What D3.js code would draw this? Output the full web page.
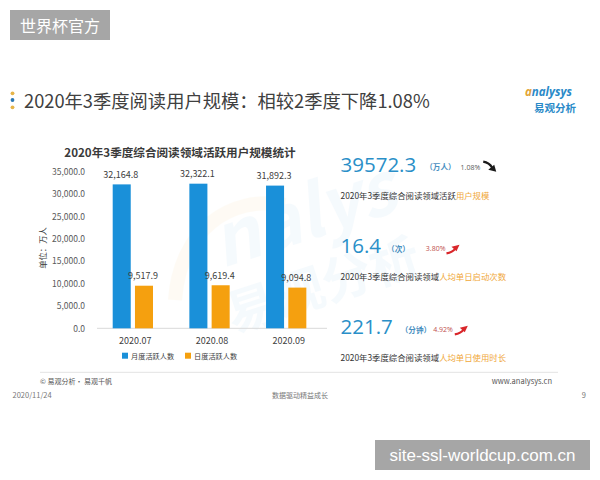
<!DOCTYPE html>
<html>
<head>
<meta charset="utf-8">
<script src="https://cdn.jsdelivr.net/npm/d3@7"></script>
<style>
html,body{margin:0;padding:0;background:#fff;}
svg{display:block;font-family:"Noto Sans CJK SC","Noto Sans",sans-serif;}
</style>
</head>
<body>
<svg id="chart" width="600" height="480"></svg>
<script>
// ---- data ----
const categories = ["2020.07", "2020.08", "2020.09"];
const seriesNames = ["月度活跃人数", "日度活跃人数"];
const monthlyActive = [32164.8, 32322.1, 31892.3];
const dailyActive = [9517.9, 9619.4, 9094.8];
const yTicks = [0, 5000, 10000, 15000, 20000, 25000, 30000, 35000];

const kpiValues = ["39572.3", "16.4", "221.7"];
const kpiUnits = ["（万人）", "（次）", "（分钟）"];
const kpiChanges = ["1.08%", "3.80%", "4.92%"];
const kpiDirections = ["down", "up", "up"];
const kpiDescPlain = ["2020年3季度综合阅读领域活跃", "2020年3季度综合阅读领域", "2020年3季度综合阅读领域"];
const kpiDescHighlight = ["用户规模", "人均单日启动次数", "人均单日使用时长"];

const pageTitle = "2020年3季度阅读用户规模：相较2季度下降1.08%";
const chartTitle = "2020年3季度综合阅读领域活跃用户规模统计";
const yAxisTitle = "单位：万人";

// ---- setup ----
const svg = d3.select("#chart");
const colors = {blue: "#1a90d9", orange: "#f5a00f"};
svg.append("rect").attr("width", 600).attr("height", 480).attr("fill", "#fff");

// top-left badge
svg.append("rect").attr("x", 10).attr("y", 10).attr("width", 100).attr("height", 30).attr("fill", "#a6a6a6");
svg.append("text").attr("x", 60).attr("y", 31.5).attr("text-anchor", "middle")
  .attr("font-size", 16).attr("fill", "#fff").text("世界杯官方");

// page title with dots
[[93.3, "#e6b449"], [100, "#2b78b5"], [107.3, "#e6b449"]].forEach(d => {
  svg.append("circle").attr("cx", 12.5).attr("cy", d[0]).attr("r", 1.9).attr("fill", d[1]);
});
svg.append("text").attr("x", 24).attr("y", 107.5).attr("font-size", 18.3).attr("fill", "#404040").text(pageTitle);

// logo
const logo = svg.append("text").attr("x", 525).attr("y", 96).attr("font-size", 11.5)
  .attr("font-style", "italic").attr("font-weight", "bold").attr("font-family", "Open Sans, sans-serif");
logo.append("tspan").attr("fill", "#e3a436").text("a");
logo.append("tspan").attr("fill", "#2a8ac8").text("nalysys");
svg.append("text").attr("x", 534).attr("y", 112).attr("font-size", 10.5).attr("font-weight", "bold")
  .attr("fill", "#2a8ac8").text("易观分析");

// faint watermark in chart
const wm = svg.append("g").attr("opacity", 0.04);
wm.append("path").attr("d", "M175,300 C180,230 230,195 285,205").attr("fill", "none")
  .attr("stroke", "#f5a00f").attr("stroke-width", 14);
wm.append("text").attr("x", 215).attr("y", 255).attr("font-size", 72).attr("font-weight", "bold")
  .attr("font-style", "italic").attr("fill", "#1a90d9").attr("transform", "rotate(-18,260,240)").text("nalys");
wm.append("text").attr("x", 225).attr("y", 320).attr("font-size", 50).attr("font-weight", "bold")
  .attr("fill", "#1a90d9").attr("transform", "rotate(-18,270,300)").text("易观分析");

// ---- bar chart ----
const y = d3.scaleLinear().domain([0, 35000]).range([328.3, 171.7]);
const x0 = d3.scaleBand().domain(categories).range([97, 327]).padding(0);
const x1 = d3.scaleBand().domain(seriesNames).range([15.7, 56]).paddingInner(0.19);

svg.append("text").attr("x", 180).attr("y", 157).attr("text-anchor", "middle")
  .attr("font-size", 11.6).attr("font-weight", "bold").attr("fill", "#3a3a3a").text(chartTitle);

const yAxis = svg.append("g").attr("transform", "translate(88,0)")
  .call(d3.axisLeft(y).tickValues(yTicks).tickSize(0).tickPadding(3).tickFormat(d3.format(",.1f")));
yAxis.select(".domain").remove();
yAxis.selectAll("text").attr("font-size", 8.5).attr("fill", "#595959")
  .attr("font-family", "Noto Sans CJK SC, sans-serif");

svg.append("text").attr("transform", "translate(46,248) rotate(-90)").attr("text-anchor", "middle")
  .attr("font-size", 8.3).attr("fill", "#404040").text(yAxisTitle);

svg.append("line").attr("x1", 97).attr("x2", 327).attr("y1", y(0)).attr("y2", y(0))
  .attr("stroke", "#d9d9d9").attr("stroke-width", 1);

const rows = categories.map((c, i) => ({cat: c, vals: [
  {s: seriesNames[0], v: monthlyActive[i], color: colors.blue},
  {s: seriesNames[1], v: dailyActive[i], color: colors.orange}]}));

const groups = svg.selectAll(".grp").data(rows).join("g")
  .attr("transform", d => `translate(${x0(d.cat)},0)`);
groups.selectAll("rect").data(d => d.vals).join("rect")
  .attr("x", d => x1(d.s)).attr("width", x1.bandwidth())
  .attr("y", d => y(d.v)).attr("height", d => y(0) - y(d.v)).attr("fill", d => d.color);
groups.selectAll(".vl").data(d => d.vals).join("text")
  .attr("x", d => x1(d.s) + x1.bandwidth() / 2 - 1).attr("y", d => y(d.v) - 6.5)
  .attr("text-anchor", "middle").attr("font-size", 9).attr("fill", "#404040")
  .text(d => d3.format(",.1f")(d.v));

svg.selectAll(".cat").data(categories).join("text")
  .attr("x", d => x0(d) + x0.bandwidth() / 2).attr("y", 343.5).attr("text-anchor", "middle")
  .attr("font-size", 9).attr("fill", "#404040").text(d => d);

// legend
const legendX = [122, 185];
seriesNames.forEach((s, i) => {
  svg.append("rect").attr("x", legendX[i]).attr("y", 352.7).attr("width", 6).attr("height", 6)
    .attr("fill", i === 0 ? colors.blue : colors.orange);
  svg.append("text").attr("x", legendX[i] + 9).attr("y", 358.7).attr("font-size", 7.2)
    .attr("fill", "#404040").text(s);
});

// ---- KPI panel ----
const kpiY = [171.7, 253.3, 334.3];
const unitGap = [9, 6, 8];
const changeGap = [5, 16, 2];
const arrowGap = [3, 1, 2];
kpiValues.forEach((v, i) => {
  const num = svg.append("text").attr("x", 340.5).attr("y", kpiY[i]).attr("font-size", 20.5)
    .attr("font-family", "Open Sans, sans-serif").attr("fill", "#2a8fc8").text(v);
  const nEnd = 340.5 + num.node().getComputedTextLength();
  const unit = svg.append("text").attr("x", nEnd + unitGap[i]).attr("y", kpiY[i] - 1.5)
    .attr("font-size", 7.6).attr("font-weight", "bold").attr("fill", "#4a8fbf").text(kpiUnits[i]);
  const uEnd = nEnd + unitGap[i] + unit.node().getComputedTextLength();
  const ch = svg.append("text").attr("x", uEnd + changeGap[i]).attr("y", kpiY[i] - 2)
    .attr("font-size", 7).attr("font-family", "Open Sans, sans-serif")
    .attr("fill", kpiDirections[i] === "down" ? "#595959" : "#c0504d").text(kpiChanges[i]);
  const cEnd = uEnd + changeGap[i] + ch.node().getComputedTextLength() + arrowGap[i];
  const ac = kpiDirections[i] === "down" ? "#1a1a1a" : "#d9262a";
  const g = svg.append("g");
  if (kpiDirections[i] === "down") {
    const ax = cEnd, ay = kpiY[i] - 10;
    g.append("path").attr("d", `M${ax},${ay} Q${ax + 6},${ay + 1} ${ax + 9},${ay + 6}`)
      .attr("fill", "none").attr("stroke", ac).attr("stroke-width", 2.2);
    g.append("path").attr("d", `M${ax + 13},${ay + 10} L${ax + 5},${ay + 8} L${ax + 11},${ay + 3}Z`).attr("fill", ac);
  } else {
    const ax = cEnd, ay = kpiY[i];
    g.append("path").attr("d", `M${ax},${ay} Q${ax + 6},${ay - 1} ${ax + 9},${ay - 5}`)
      .attr("fill", "none").attr("stroke", ac).attr("stroke-width", 2.2);
    g.append("path").attr("d", `M${ax + 13},${ay - 8.5} L${ax + 5},${ay - 6.5} L${ax + 10},${ay - 2}Z`).attr("fill", ac);
  }
  const desc = svg.append("text").attr("x", 340.5).attr("y", kpiY[i] + 26.8).attr("font-size", 8.4).attr("fill", "#333");
  desc.append("tspan").text(kpiDescPlain[i]);
  desc.append("tspan").attr("fill", "#f0a83a").text(kpiDescHighlight[i]);
});

// ---- footer ----
svg.append("line").attr("x1", 40).attr("x2", 558).attr("y1", 372.3).attr("y2", 372.3)
  .attr("stroke", "#e3e3e3").attr("stroke-width", 1);
svg.append("text").attr("x", 40).attr("y", 383.5).attr("font-size", 7).attr("fill", "#555").text("© 易观分析· 易观千帆");
svg.append("text").attr("x", 552).attr("y", 383.5).attr("text-anchor", "end").attr("font-size", 7.5)
  .attr("fill", "#555").text("www.analysys.cn");
svg.append("text").attr("x", 12.5).attr("y", 398).attr("font-size", 7.5).attr("fill", "#777").text("2020/11/24");
svg.append("text").attr("x", 300).attr("y", 398).attr("text-anchor", "middle").attr("font-size", 7)
  .attr("fill", "#777").text("数据驱动精益成长");
svg.append("text").attr("x", 586).attr("y", 398).attr("text-anchor", "end").attr("font-size", 7.5)
  .attr("fill", "#777").text("9");

// bottom-right badge
svg.append("rect").attr("x", 375).attr("y", 440).attr("width", 215).attr("height", 30).attr("fill", "#a6a6a6");
svg.append("text").attr("x", 482.5).attr("y", 461).attr("text-anchor", "middle")
  .attr("font-size", 17).attr("font-family", "Liberation Sans, Arial, sans-serif").attr("fill", "#fff")
  .text("site-ssl-worldcup.com.cn");
</script>
</body>
</html>
